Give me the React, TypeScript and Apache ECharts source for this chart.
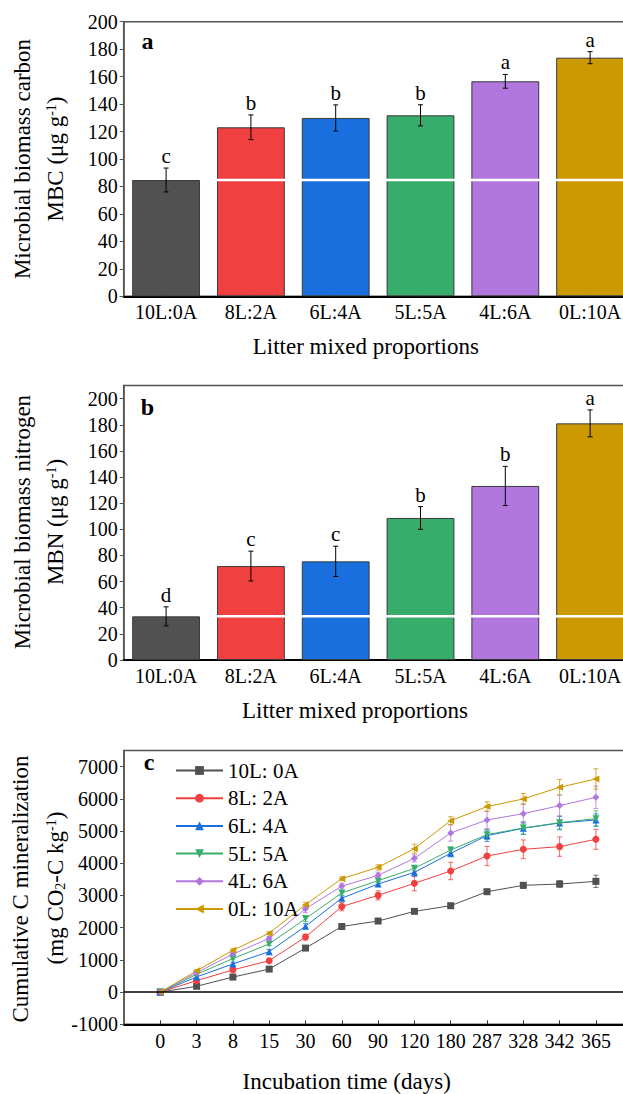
import React, { useEffect, useRef } from 'react';
import * as echarts from 'echarts';

// ---------- data ----------
const litterCats = ['10L:0A', '8L:2A', '6L:4A', '5L:5A', '4L:6A', '0L:10A'];

const mbcValues = [84.7, 123.1, 129.9, 131.8, 156.6, 173.8];
const mbcErrors = [8.7, 9.0, 9.5, 7.7, 5.0, 4.4];
const mbcLetters = ['c', 'b', 'b', 'b', 'a', 'a'];
const mbcTicks = [0, 20, 40, 60, 80, 100, 120, 140, 160, 180, 200];

const mbnValues = [33.4, 71.9, 75.5, 108.7, 133.2, 181.1];
const mbnErrors = [7.3, 11.4, 11.6, 8.7, 15.0, 10.3];
const mbnLetters = ['d', 'c', 'c', 'b', 'b', 'a'];
const mbnTicks = [0, 20, 40, 60, 80, 100, 120, 140, 160, 180, 200];

const days = ['0', '3', '8', '15', '30', '60', '90', '120', '180', '287', '328', '342', '365'];
const dayPositions = [1, 2, 3, 4, 5, 6, 7, 8, 9, 10, 11, 12, 13];
const mineralTicks = [-1000, 0, 1000, 2000, 3000, 4000, 5000, 6000, 7000];

const seriesNames = ['10L: 0A', '8L: 2A', '6L: 4A', '5L: 5A', '4L: 6A', '0L: 10A'];

const cm10L0A = [0, 180, 466, 714, 1366, 2037, 2206, 2506, 2682, 3117, 3314, 3355, 3438];
const cm10L0AErr = [0, 30, 30, 40, 50, 50, 50, 50, 60, 60, 90, 100, 190];
const cm8L2A = [0, 355, 690, 975, 1708, 2655, 3003, 3376, 3759, 4225, 4432, 4515, 4743];
const cm8L2AErr = [0, 40, 40, 50, 90, 130, 140, 230, 270, 300, 290, 300, 310];
const cm6L4A = [0, 470, 875, 1255, 2045, 2915, 3355, 3718, 4308, 4857, 5084, 5250, 5343];
const cm6L4AErr = [0, 40, 50, 70, 80, 70, 80, 130, 110, 180, 190, 210, 190];
const cm5L5A = [0, 550, 1040, 1495, 2278, 3080, 3459, 3842, 4411, 4888, 5095, 5260, 5385];
const cm5L5AErr = [0, 30, 40, 50, 90, 70, 70, 80, 90, 150, 190, 200, 240];
const cm4L6A = [0, 600, 1180, 1667, 2585, 3290, 3624, 4152, 4939, 5343, 5540, 5789, 6047];
const cm4L6AErr = [0, 40, 50, 60, 120, 90, 100, 110, 250, 270, 300, 330, 350];
const cm0L10A = [0, 660, 1300, 1828, 2715, 3521, 3873, 4453, 5323, 5758, 5996, 6358, 6617];
const cm0L10AErr = [0, 40, 50, 50, 70, 60, 80, 140, 120, 150, 170, 240, 315];

const mineralSeries = [cm10L0A, cm8L2A, cm6L4A, cm5L5A, cm4L6A, cm0L10A];
const mineralErrors = [cm10L0AErr, cm8L2AErr, cm6L4AErr, cm5L5AErr, cm4L6AErr, cm0L10AErr];

// ---------- style ----------
const palette = ['#515151', '#F14040', '#1A6FDF', '#37AD6B', '#B177DE', '#CC9900'];
const symbols = ['rect', 'circle', 'triangle', 'triangle', 'diamond', 'triangle'];
const symbolRotates = [0, 0, 0, 180, 0, 90];
const FONT = '"Liberation Serif", "Times New Roman", serif';
const TICK_FS = 20;
const TITLE_FS = 23;

function barErrorSeries(xi: number, values: number[], errors: number[], letters: string[]) {
  return {
    type: 'custom',
    xAxisIndex: xi,
    yAxisIndex: xi,
    z: 4,
    silent: true,
    data: values.map((v, i) => [i, v, errors[i]]),
    renderItem: (params: any, api: any) => {
      const x = api.value(0);
      const v = api.value(1);
      const e = api.value(2);
      const top = api.coord([x, v + e]);
      const bot = api.coord([x, v - e]);
      const hw = 2.5;
      const st = { stroke: '#000', lineWidth: 1 };
      return {
        type: 'group',
        children: [
          { type: 'line', shape: { x1: top[0], y1: top[1], x2: bot[0], y2: bot[1] }, style: st },
          { type: 'line', shape: { x1: top[0] - hw, y1: top[1], x2: top[0] + hw, y2: top[1] }, style: st },
          { type: 'line', shape: { x1: bot[0] - hw, y1: bot[1], x2: bot[0] + hw, y2: bot[1] }, style: st },
          {
            type: 'text',
            style: {
              text: letters[params.dataIndex],
              x: top[0],
              y: top[1] - 1.5,
              align: 'center',
              verticalAlign: 'bottom',
              fontSize: 21,
              fontFamily: FONT,
              fill: '#000',
            },
          },
        ],
      };
    },
  };
}

function whiteLineSeries(xi: number, values: number[]) {
  return {
    type: 'custom',
    xAxisIndex: xi,
    yAxisIndex: xi,
    z: 3,
    silent: true,
    data: [[0, values[0]]],
    renderItem: (params: any, api: any) => {
      const p = api.coord([api.value(0), api.value(1)]);
      const band = api.size([1, 0])[0];
      const cs = params.coordSys;
      return {
        type: 'line',
        shape: { x1: p[0] + band / 2, y1: p[1], x2: cs.x + cs.width, y2: p[1] },
        style: { stroke: '#ffffff', lineWidth: 2.5 },
      };
    },
  };
}

function barSeries(xi: number, values: number[]) {
  return {
    type: 'bar',
    xAxisIndex: xi,
    yAxisIndex: xi,
    barCategoryGap: '20%',
    z: 2,
    data: values.map((v, i) => ({
      value: v,
      itemStyle: { color: palette[i], borderColor: '#3a3a3a', borderWidth: 1 },
    })),
  };
}

function catAxis(gi: number) {
  return {
    gridIndex: gi,
    type: 'category',
    data: litterCats,
    axisLine: { show: true, lineStyle: { color: '#000', width: 2 } },
    axisTick: { show: true, inside: true, alignWithLabel: true, length: 4, lineStyle: { color: '#333', width: 1 } },
    axisLabel: { fontSize: TICK_FS, fontFamily: FONT, color: '#000', margin: 6 },
    splitLine: { show: false },
  };
}

function valAxis(gi: number, min: number, max: number, ticks: number[]) {
  return {
    gridIndex: gi,
    type: 'value',
    min,
    max,
    axisLine: { show: true, onZero: false, lineStyle: { color: '#555', width: 1.5 } },
    axisTick: { show: true, inside: false, length: 4, customValues: ticks, lineStyle: { color: '#555', width: 1 } },
    axisLabel: {
      fontSize: TICK_FS,
      fontFamily: FONT,
      color: '#000',
      margin: 6,
      customValues: ticks,
      formatter: (v: number) => String(v),
    },
    splitLine: { show: false },
  };
}

function vText(x: number, y: number, text: string, rich?: any) {
  return {
    type: 'text',
    x,
    y,
    rotation: Math.PI / 2,
    style: {
      text,
      fontSize: TITLE_FS,
      fontFamily: FONT,
      fill: '#000',
      align: 'center',
      verticalAlign: 'middle',
      rich,
    },
  };
}

function hText(x: number, y: number, text: string, bold = false, size = TITLE_FS) {
  return {
    type: 'text',
    x,
    y,
    style: {
      text,
      fontSize: size,
      fontWeight: bold ? 'bold' : 'normal',
      fontFamily: FONT,
      fill: '#000',
      align: 'center',
      verticalAlign: 'middle',
    },
  };
}

const richSup = {
  n: { fontSize: TITLE_FS, fontFamily: FONT, fill: '#000' },
  s: { fontSize: 14, fontFamily: FONT, fill: '#000', verticalAlign: 'top', padding: [0, 0, 6, 0] },
  b: { fontSize: 14, fontFamily: FONT, fill: '#000', verticalAlign: 'bottom', padding: [6, 0, 0, 0] },
};

export default function App() {
  const ref = useRef<HTMLDivElement>(null);

  useEffect(() => {
    if (!ref.current) return;
    const chart = echarts.init(ref.current, undefined, { renderer: 'svg' });

    const gridCommon = { show: true, borderColor: '#555', borderWidth: 1.5, backgroundColor: 'transparent' };

    const lineSeries = mineralSeries.map((vals, k) => ({
      name: seriesNames[k],
      type: 'line',
      xAxisIndex: 2,
      yAxisIndex: 2,
      z: 3,
      data: vals.map((v, i) => [dayPositions[i], v]),
      symbol: symbols[k],
      symbolRotate: symbolRotates[k],
      symbolSize: 7,
      showAllSymbol: true,
      lineStyle: { color: palette[k], width: 1 },
      itemStyle: { color: palette[k] },
      markLine:
        k === 0
          ? {
              silent: true,
              symbol: ['none', 'none'],
              label: { show: false },
              lineStyle: { color: '#000', width: 1.5, type: 'solid' },
              data: [{ yAxis: 0 }],
            }
          : undefined,
    }));

    const lineErrSeries = mineralSeries.map((vals, k) => ({
      type: 'custom',
      xAxisIndex: 2,
      yAxisIndex: 2,
      z: 2,
      silent: true,
      data: vals.map((v, i) => [dayPositions[i], v, mineralErrors[k][i]]),
      renderItem: (params: any, api: any) => {
        const x = api.value(0);
        const v = api.value(1);
        const e = api.value(2);
        if (!e) return { type: 'group', children: [] };
        const top = api.coord([x, v + e]);
        const bot = api.coord([x, v - e]);
        const hw = 2.5;
        const st = { stroke: palette[k], lineWidth: 1, opacity: 0.8 };
        return {
          type: 'group',
          children: [
            { type: 'line', shape: { x1: top[0], y1: top[1], x2: bot[0], y2: bot[1] }, style: st },
            { type: 'line', shape: { x1: top[0] - hw, y1: top[1], x2: top[0] + hw, y2: top[1] }, style: st },
            { type: 'line', shape: { x1: bot[0] - hw, y1: bot[1], x2: bot[0] + hw, y2: bot[1] }, style: st },
          ],
        };
      },
    }));

    const option: any = {
      animation: false,
      backgroundColor: '#ffffff',
      textStyle: { fontFamily: FONT },
      grid: [
        { ...gridCommon, left: 123.7, top: 21.7, width: 508.8, height: 274.6 },
        { ...gridCommon, left: 123.7, top: 385.6, width: 508.8, height: 274.4 },
        { ...gridCommon, left: 124, top: 750.5, width: 508.2, height: 273.8 },
      ],
      xAxis: [
        catAxis(0),
        catAxis(1),
        {
          gridIndex: 2,
          type: 'value',
          min: 0,
          max: 14,
          axisLine: { show: true, onZero: false, lineStyle: { color: '#000', width: 2 } },
          axisTick: { show: true, inside: true, length: 4, customValues: dayPositions, lineStyle: { color: '#333', width: 1 } },
          axisLabel: {
            fontSize: TICK_FS,
            fontFamily: FONT,
            color: '#000',
            margin: 7,
            customValues: dayPositions,
            formatter: (v: number) => days[Math.round(v) - 1] ?? '',
          },
          splitLine: { show: false },
        },
      ],
      yAxis: [
        valAxis(0, 0, 200, mbcTicks),
        valAxis(1, 0, 210, mbnTicks),
        valAxis(2, -1000, 7500, mineralTicks),
      ],
      legend: {
        data: seriesNames,
        orient: 'vertical',
        left: 170,
        top: 755,
        itemWidth: 47,
        itemHeight: 11,
        itemGap: 6.7,
        textStyle: { fontSize: 21, fontFamily: FONT, color: '#000', lineHeight: 20 },
      },
      series: [
        barSeries(0, mbcValues),
        whiteLineSeries(0, mbcValues),
        barErrorSeries(0, mbcValues, mbcErrors, mbcLetters),
        barSeries(1, mbnValues),
        whiteLineSeries(1, mbnValues),
        barErrorSeries(1, mbnValues, mbnErrors, mbnLetters),
        ...lineErrSeries,
        ...lineSeries,
      ],
      graphic: [
        hText(147.5, 40.5, 'a', true, 24),
        hText(147.5, 406.7, 'b', true, 24),
        hText(149, 761.5, 'c', true, 24),
        hText(365.8, 346.7, 'Litter mixed proportions'),
        hText(355, 710, 'Litter mixed proportions'),
        hText(346.7, 1081.7, 'Incubation time (days)'),
        vText(22.6, 159, 'Microbial biomass carbon'),
        vText(55.6, 159, '{n|MBC (μg g}{s|-1}{n|)}', richSup),
        vText(22.6, 522, 'Microbial biomass nitrogen'),
        vText(55.6, 522, '{n|MBN (μg g}{s|-1}{n|)}', richSup),
        vText(20, 889, 'Cumulative C mineralization'),
        vText(55.6, 888, '{n|(mg CO}{b|2}{n|-C kg}{s|-1}{n|)}', richSup),
      ],
    };

    chart.setOption(option);
    return () => chart.dispose();
  }, []);

  return (
    <div
      style={{
        position: 'fixed',
        left: 0,
        top: 0,
        width: 623,
        height: 1094,
        overflow: 'hidden',
        background: '#fff',
      }}
    >
      <div ref={ref} style={{ width: 640, height: 1094 }} />
    </div>
  );
}
